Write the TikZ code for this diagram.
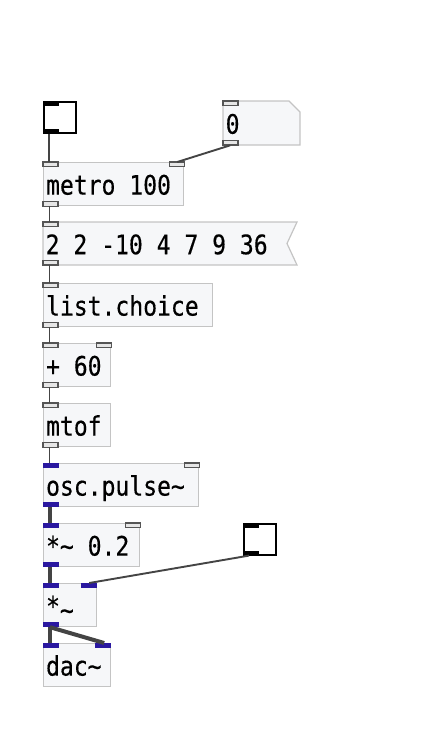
\documentclass[tikz,border=0pt]{standalone}
\usepackage{fontspec}
\newfontfamily\pdmono{DejaVu Sans Mono}[FakeStretch=0.86,FakeBold=0.4]
\newcommand\pdsp{\phantom{0}}
\definecolor{boxfill}{HTML}{F6F7F9}
\definecolor{boxline}{HTML}{C4C4C4}
\definecolor{ctlin}{HTML}{555555}
\definecolor{ctlfill}{HTML}{E6E6E6}
\definecolor{sigblue}{HTML}{2A18A0}
\definecolor{wire}{HTML}{444444}
\tikzset{
  pdfont/.style={font=\pdmono\fontsize{26.8}{30}\selectfont, text height=21pt, text depth=0pt},
  obj/.style={draw=boxline, line width=1.2pt, fill=boxfill, anchor=north west,
    inner xsep=2.5pt, inner ysep=0pt, align=left, minimum height=43pt, pdfont},
  msgtxt/.style={draw=none, fill=none, anchor=north west,
    inner xsep=2.5pt, inner ysep=0pt, align=left, minimum height=43pt, pdfont},
  msgshape/.style={draw=boxline, line width=1.2pt, fill=boxfill},
  ctlport/.style={draw=ctlin, line width=1.3pt, fill=ctlfill},
  sigport/.style={fill=sigblue},
  guibox/.style={draw=black, line width=1.6pt, fill=white, anchor=north west,
    minimum width=32pt, minimum height=31pt, inner sep=0pt},
  guiport/.style={fill=black},
  cwire/.style={draw=wire, line width=1.9pt},
  swire/.style={draw=wire, line width=4pt},
}
\begin{document}
\begin{tikzpicture}[x=1pt,y=-1pt]
\useasboundingbox (0,0) rectangle (432,748);

% bang / toggle boxes
\node[guibox] (bng) at (43,101) {};
\fill[guiport] (bng.north west) rectangle ++(16,4.5);
\fill[guiport] (bng.south west) rectangle ++(16,-4.5);

\node[guibox] (tgl) at (243,523) {};
\fill[guiport] (tgl.north west) rectangle ++(16,4.5);
\fill[guiport] (tgl.south west) rectangle ++(16,-4.5);

% message "0"
\draw[msgshape] (223,101) -- (289,101) -- (300,112) -- (300,145) -- (223,145) -- cycle;
\node[msgtxt, text width=72pt, minimum height=44pt] (m0) at (223,101) {0};
\draw[ctlport] (223,101) rectangle ++(15,4.5);
\draw[ctlport] (223,145) rectangle ++(15,-4.5);

% metro
\node[obj, text width=135pt] (metro) at (43,162) {metro\pdsp 100};
\draw[ctlport] (metro.north west) rectangle ++(15,4.5);
\draw[ctlport] (metro.north east) rectangle ++(-15,4.5);
\draw[ctlport] (metro.south west) rectangle ++(15,-4.5);

% list message
\draw[msgshape] (43,222) -- (297,222) -- (287,243.5) -- (297,265) -- (43,265) -- cycle;
\node[msgtxt, text width=249pt] (lst) at (43,222) {2\pdsp 2\pdsp -10\pdsp 4\pdsp 7\pdsp 9\pdsp 36};
\draw[ctlport] (43,222) rectangle ++(15,4.5);
\draw[ctlport] (43,265) rectangle ++(15,-4.5);

% list.choice
\node[obj, text width=164pt] (choice) at (43,283) {list.choice};
\draw[ctlport] (choice.north west) rectangle ++(15,4.5);
\draw[ctlport] (choice.south west) rectangle ++(15,-4.5);

% + 60
\node[obj, text width=62pt] (plus) at (43,343) {+\pdsp 60};
\draw[ctlport] (plus.north west) rectangle ++(15,4.5);
\draw[ctlport] (plus.north east) rectangle ++(-15,4.5);
\draw[ctlport] (plus.south west) rectangle ++(15,-4.5);

% mtof
\node[obj, text width=62pt] (mtof) at (43,403) {mtof};
\draw[ctlport] (mtof.north west) rectangle ++(15,4.5);
\draw[ctlport] (mtof.south west) rectangle ++(15,-4.5);

% osc.pulse~
\node[obj, text width=150pt] (osc) at (43,463) {osc.pulse\char`~};
\fill[sigport] (osc.north west) rectangle ++(16,5);
\draw[ctlport] (osc.north east) rectangle ++(-15,4.5);
\fill[sigport] (osc.south west) rectangle ++(16,-5);

% *~ 0.2
\node[obj, text width=91pt] (mul) at (43,523) {*\char`~\pdsp 0.2};
\fill[sigport] (mul.north west) rectangle ++(16,5);
\draw[ctlport] (mul.north east) rectangle ++(-15,4.5);
\fill[sigport] (mul.south west) rectangle ++(16,-5);

% *~
\node[obj, text width=48pt] (vca) at (43,583) {*\raisebox{-4pt}{\char`~}};
\fill[sigport] (vca.north west) rectangle ++(16,5);
\fill[sigport] (vca.north east) rectangle ++(-16,5);
\fill[sigport] (vca.south west) rectangle ++(16,-5);

% dac~
\node[obj, text width=62pt] (dac) at (43,643) {dac\char`~};
\fill[sigport] (dac.north west) rectangle ++(16,5);
\fill[sigport] (dac.north east) rectangle ++(-16,5);

% wires
\draw[cwire] ([xshift=6pt]bng.south west) -- ([xshift=6pt]metro.north west);
\draw[cwire] ([xshift=7pt]m0.south west) -- ([xshift=-7pt]metro.north east);
\draw[cwire] ([xshift=6.5pt]metro.south west) -- ([xshift=6.5pt]lst.north west);
\draw[cwire] ([xshift=6.5pt]lst.south west) -- ([xshift=6.5pt]choice.north west);
\draw[cwire] ([xshift=6.5pt]choice.south west) -- ([xshift=6.5pt]plus.north west);
\draw[cwire] ([xshift=6.5pt]plus.south west) -- ([xshift=6.5pt]mtof.north west);
\draw[cwire] ([xshift=6.5pt]mtof.south west) -- ([xshift=6.5pt]osc.north west);
\draw[swire] ([xshift=7pt]osc.south west) -- ([xshift=7pt]mul.north west);
\draw[swire] ([xshift=7pt]mul.south west) -- ([xshift=7pt]vca.north west);
\draw[cwire] ([xshift=6pt]tgl.south west) -- ([xshift=-8pt]vca.north east);
\draw[swire] ([xshift=7pt]vca.south west) -- ([xshift=7pt]dac.north west);
\draw[swire] ([xshift=7pt]vca.south west) -- ([xshift=-7pt]dac.north east);
\end{tikzpicture}
\end{document}
